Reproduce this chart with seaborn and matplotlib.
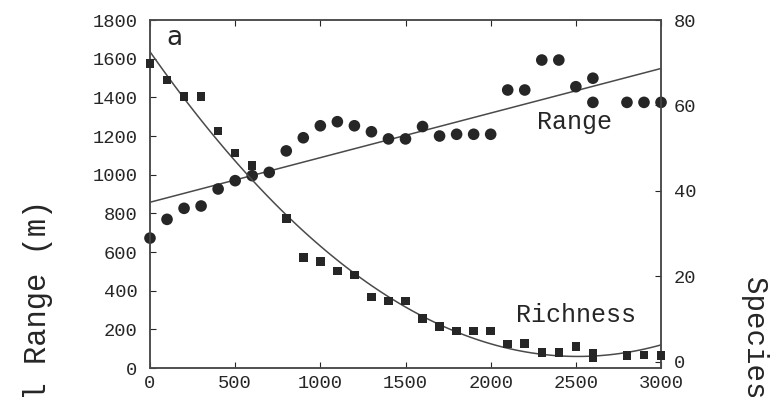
import numpy as np
import pandas as pd
import seaborn as sns
import matplotlib.pyplot as plt

# altitude (m) for the range points (circles)
range_alt = [0, 100, 200, 300, 400, 500, 600, 700, 800, 900, 1000, 1100, 1200,
             1300, 1400, 1500, 1600, 1700, 1800, 1900, 2000, 2100, 2200, 2300,
             2400, 2500, 2600, 2600, 2800, 2900, 3000]
range_m = [672, 769, 826, 838, 926, 969, 995, 1012, 1123, 1191, 1253, 1274, 1253,
           1222, 1185, 1185, 1249, 1200, 1209, 1209, 1209, 1438, 1438, 1593,
           1593, 1455, 1499, 1374, 1374, 1374, 1374]

# altitude (m) for the richness points (squares)
rich_alt = [0, 100, 200, 300, 400, 500, 600, 800, 900, 1000, 1100, 1200, 1300,
            1400, 1500, 1600, 1700, 1800, 1900, 2000, 2100, 2200, 2300, 2400,
            2500, 2600, 2600, 2800, 2900, 3000]
richness = [69.8, 65.9, 62.1, 62.1, 54.0, 48.9, 45.9, 33.5, 24.4, 23.4, 21.2,
            20.3, 15.1, 14.2, 14.2, 10.1, 8.2, 7.2, 7.2, 7.2, 4.1, 4.3, 2.1,
            2.2, 3.5, 2.0, 0.8, 1.4, 1.6, 1.4]

x_ticks = [0, 500, 1000, 1500, 2000, 2500, 3000]
left_ticks = [0, 200, 400, 600, 800, 1000, 1200, 1400, 1600, 1800]
right_ticks = [0, 20, 40, 60, 80]

df_range = pd.DataFrame({'alt': range_alt, 'range': range_m})
df_rich = pd.DataFrame({'alt': rich_alt, 'richness': richness})

sns.set_style('ticks')
plt.rcParams['font.family'] = ['Liberation Mono', 'DejaVu Sans']

ink = '#262626'
line_col = '#4a4a4a'

fig = plt.figure(figsize=(7.82, 3.97), dpi=100)
ax = fig.add_axes([0.1918, 0.073, 0.6535, 0.8766])
ax2 = ax.twinx()

sns.scatterplot(data=df_range, x='alt', y='range', ax=ax, marker='o', s=70,
                color=ink, edgecolor='none', clip_on=False, zorder=3)
sns.regplot(data=df_range, x='alt', y='range', ax=ax, scatter=False, ci=None,
            truncate=True, line_kws={'color': line_col, 'lw': 1.1})

sns.scatterplot(data=df_rich, x='alt', y='richness', ax=ax2, marker='s', s=38,
                color=ink, edgecolor='none', clip_on=False, zorder=3)
sns.regplot(data=df_rich, x='alt', y='richness', ax=ax2, scatter=False, ci=None,
            order=2, truncate=True, line_kws={'color': line_col, 'lw': 1.1})

ax.set_xlim(0, 3000)
ax.set_ylim(0, 1800)
ax2.set_ylim(-1.5, 80)
ax.set_xticks(x_ticks)
ax.set_yticks(left_ticks)
ax2.set_yticks(right_ticks)
ax.set_xlabel('')
ax.set_ylabel('')
ax2.set_ylabel('')

ax.tick_params(axis='x', direction='in', length=4, top=True, pad=5,
               labelsize=13.5, colors=ink)
ax.tick_params(axis='y', direction='in', length=4, pad=9, labelsize=13.5,
               colors=ink)
ax2.tick_params(axis='y', direction='in', length=4, pad=9, labelsize=13.5,
                colors=ink)
for a in (ax, ax2):
    for sp in a.spines.values():
        sp.set_visible(True)
        sp.set_color(line_col)
        sp.set_linewidth(1.1)

ax.text(0.033, 0.928, 'a', transform=ax.transAxes, fontsize=19,
        family='DejaVu Sans', color=ink, ha='left', va='baseline')
ax.text(2490, 1275, 'Range', fontsize=18, color=ink, ha='center', va='center')
ax2.text(2500, 10.9, 'Richness', fontsize=18, color=ink, ha='center', va='center')

fig.text(38 / 782, 1 - 200 / 397, 'Altitudinal Range (m)', rotation=90,
         fontsize=22, color=ink, ha='center', va='top')
fig.text(755 / 782, 1 - 276 / 397, 'Species Richness', rotation=270,
         fontsize=21, color=ink, ha='center', va='top')

fig.savefig('out.png', dpi=100)
